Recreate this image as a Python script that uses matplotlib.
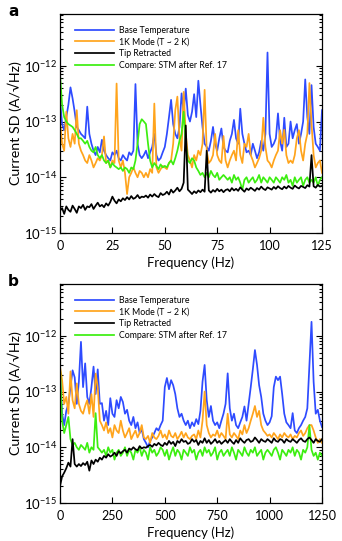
import numpy as np
import matplotlib
matplotlib.use("Agg")
import matplotlib.pyplot as plt
from matplotlib.ticker import FixedLocator, NullFormatter, NullLocator, LogFormatterSciNotation

FONT = ['Lato', 'DejaVu Sans']
plt.rcParams['font.family'] = FONT
plt.rcParams['mathtext.fontset'] = 'custom'
plt.rcParams['mathtext.rm'] = 'Lato'
plt.rcParams['mathtext.it'] = 'Lato:italic'
plt.rcParams['mathtext.bf'] = 'Lato:bold'

# ---------------- data (values in fA/sqrt(Hz), i.e. units of 1e-15) -------------
freq_a = np.arange(0, 126, 1)      # Hz
freq_b = np.arange(0, 1251, 10)    # Hz

base_a = [250, 90, 70, 120, 200, 410, 260, 150, 80, 70,
          60, 55, 50, 185, 60, 40, 30, 25, 35, 28,
          47, 30, 25, 22, 20, 28, 25, 30, 22, 20,
          25, 22, 20, 28, 25, 30, 470, 40, 25, 22,
          25, 30, 22, 28, 35, 60, 25, 20, 22, 28,
          35, 60, 120, 245, 90, 60, 50, 80, 320, 150,
          390, 130, 100, 150, 310, 120, 540, 200, 80, 40,
          35, 30, 45, 80, 40, 30, 50, 75, 35, 30,
          28, 45, 60, 107, 50, 40, 170, 60, 40, 28,
          30, 25, 40, 30, 22, 28, 45, 30, 60, 1730,
          60, 35, 40, 50, 140, 45, 30, 117, 35, 40,
          100, 50, 70, 90, 40, 60, 100, 570, 120, 60,
          450, 80, 40, 35, 30, 160]

onek_a = [100, 40, 30, 150, 50, 35, 60, 40, 160, 40,
          30, 25, 20, 18, 25, 20, 15, 18, 22, 20,
          25, 54, 18, 20, 15, 20, 18, 480, 20, 15,
          20, 12, 5, 10, 12, 15, 12, 10, 13, 12,
          10, 12, 10, 14, 12, 210, 15, 12, 14, 16,
          15, 14, 18, 20, 40, 160, 280, 50, 30, 340,
          60, 25, 20, 15, 25, 20, 30, 25, 40, 370,
          30, 18, 20, 25, 60, 25, 20, 18, 55, 20,
          15, 20, 25, 30, 20, 70, 25, 18, 40, 35,
          60, 25, 20, 15, 18, 22, 30, 117, 35, 20,
          18, 15, 20, 25, 30, 70, 40, 71, 25, 18,
          20, 18, 25, 50, 70, 30, 20, 40, 60, 490,
          90, 25, 15, 18, 20, 12]

tip_a = [2.5, 2.8, 2.2, 3.0, 2.6, 2.4, 3.1, 2.7, 2.3, 3.0,
         2.8, 3.2, 2.6, 3.0, 2.9, 3.3, 2.7, 3.1, 3.5, 3.0,
         3.2, 2.9, 3.4, 3.1, 3.6, 4.5, 3.8, 3.4, 4.0, 3.7,
         4.2, 3.9, 4.4, 4.0, 4.6, 4.1, 4.3, 4.8, 4.2, 4.5,
         4.4, 4.7, 4.3, 4.9, 4.5, 5.0, 4.6, 4.4, 5.2, 4.8,
         5.0, 5.5, 4.9, 6.0, 5.3, 5.8, 6.5, 5.6, 6.2, 8.0,
         85, 6.0, 5.5, 5.0, 5.6, 5.2, 5.8, 5.4, 6.0, 5.5,
         30, 5.8, 5.3, 5.9, 5.5, 6.2, 5.6, 6.0, 5.4, 5.9,
         6.1, 5.6, 6.4, 5.8, 6.2, 5.7, 6.6, 6.0, 5.5, 6.3,
         5.9, 6.5, 6.1, 5.7, 6.4, 6.0, 6.8, 6.2, 5.9, 6.6,
         6.3, 6.0, 6.7, 6.2, 6.9, 6.4, 6.1, 6.8, 6.3, 7.0,
         6.5, 6.2, 7.1, 6.6, 6.3, 7.0, 6.7, 6.4, 7.2, 6.8,
         25, 6.9, 6.5, 7.3, 6.8, 7.0]

stm_a = [700, 200, 120, 100, 90, 85, 80, 70, 60, 50,
         50, 45, 40, 45, 35, 30, 28, 35, 25, 22,
         25, 20, 18, 20, 15, 18, 16, 15, 14, 15,
         13, 15, 14, 12, 15, 14, 20, 40, 90, 110,
         100, 90, 40, 20, 15, 18, 16, 14, 17, 15,
         16, 15, 18, 20, 17, 22, 30, 45, 60, 150,
         40, 20, 18, 22, 20, 15, 13, 11, 12, 10,
         12, 10, 13, 11, 10, 12, 9, 10, 11, 10,
         9, 10, 8, 11, 9, 10, 8, 6, 9, 10,
         8, 9, 10, 8, 9, 11, 8, 10, 9, 8,
         10, 9, 8, 10, 9, 8, 10, 9, 11, 8,
         9, 7, 10, 8, 9, 10, 7, 9, 10, 8,
         9, 8, 10, 7, 9, 10]

base_b = [200, 40, 25, 45, 60, 120, 240, 180, 60, 150,
          780, 120, 320, 80, 60, 120, 280, 90, 250, 60,
          62, 30, 45, 25, 76, 40, 35, 70, 50, 80,
          65, 40, 47, 30, 25, 35, 22, 28, 18, 21,
          14, 12, 10, 13, 15, 18, 22, 20, 25, 30,
          120, 175, 110, 160, 130, 90, 50, 35, 40, 30,
          25, 30, 22, 28, 24, 32, 26, 45, 150, 300,
          70, 35, 55, 30, 25, 28, 22, 30, 40, 60,
          212, 50, 30, 40, 25, 22, 28, 35, 54, 30,
          60, 120, 250, 555, 300, 130, 80, 40, 30, 25,
          28, 36, 120, 185, 160, 185, 90, 40, 28, 25,
          22, 41, 20, 18, 22, 25, 30, 35, 50, 300,
          1780, 150, 40, 47, 30, 23]

onek_b = [280, 160, 60, 80, 40, 230, 70, 50, 140, 60,
          45, 40, 55, 70, 40, 90, 35, 210, 120, 30,
          25, 20, 28, 18, 22, 15, 25, 20, 18, 30,
          20, 15, 18, 22, 14, 17, 20, 15, 18, 25,
          15, 14, 16, 12, 18, 15, 14, 16, 20, 15,
          17, 14, 20, 16, 15, 18, 14, 16, 19, 15,
          18, 15, 14, 16, 17, 14, 20, 15, 30, 100,
          25, 18, 15, 17, 16, 20, 15, 18, 16, 14,
          40, 17, 15, 18, 16, 14, 20, 17, 25, 18,
          22, 30, 40, 55, 35, 45, 25, 20, 18, 16,
          17, 15, 18, 16, 14, 17, 15, 18, 16, 15,
          17, 14, 16, 15, 18, 20, 16, 18, 22, 25,
          25, 20, 15, 12, 14, 12]

tip_b = [2.0, 3.0, 3.5, 4.2, 5.3, 4.5, 14, 5.0, 4.5, 5.0,
         4.6, 5.2, 4.8, 5.5, 3.8, 5.8, 5.0, 6.0, 5.5, 6.5,
         6.0, 7.0, 6.5, 7.5, 6.8, 7.2, 8.0, 7.0, 8.5, 7.8,
         8.5, 9.0, 8.0, 9.5, 9.0, 10.0, 9.2, 8.8, 10.5, 9.5,
         10.0, 9.8, 10.5, 11.0, 10.2, 11.5, 10.8, 12.0, 11.0, 10.5,
         12.0, 11.0, 13.0, 11.5, 12.5, 10.5, 13.0, 12.0, 14.0, 12.5,
         13.0, 11.5, 12.0, 14.0, 12.5, 13.5, 11.0, 13.0, 12.0, 14.5,
         12.0, 13.5, 11.5, 12.5, 14.0, 12.0, 13.0, 11.5, 12.5, 13.5,
         12.0, 14.0, 12.5, 11.5, 13.5, 12.0, 14.5, 13.0, 12.0, 13.5,
         14.0, 12.5, 13.0, 15.0, 13.5, 12.0, 14.0, 13.0, 12.5, 14.0,
         13.0, 12.0, 14.5, 13.0, 12.5, 14.0, 13.5, 12.0, 14.0, 13.0,
         12.5, 14.0, 13.0, 12.0, 13.5, 14.5, 13.0, 12.5, 14.0, 15.0,
         13.5, 12.0, 14.0, 13.0, 12.5, 14.0]

stm_b = [280, 30, 18, 25, 35, 14, 11, 12, 10, 9,
         11, 10, 9, 12, 8, 10, 9, 41, 10, 9,
         8, 9, 7, 10, 8, 9, 6, 8, 9, 7,
         8, 10, 7, 9, 8, 6, 9, 8, 10, 7,
         9, 8, 6, 10, 8, 9, 7, 8, 10, 9,
         7, 9, 6, 8, 10, 7, 9, 8, 6, 9,
         8, 7, 10, 8, 9, 6, 8, 9, 7, 10,
         8, 9, 7, 8, 10, 6, 8, 9, 7, 8,
         9, 7, 10, 8, 6, 9, 8, 7, 10, 8,
         7, 9, 8, 10, 7, 8, 9, 6, 8, 9,
         8, 7, 9, 10, 8, 6, 9, 8, 7, 9,
         8, 10, 7, 9, 8, 6, 9, 8, 10, 25,
         9, 7, 8, 6, 8, 7]

labels = ["Base Temperature", "1K Mode (T ~ 2 K)", "Tip Retracted",
          "Compare: STM after Ref. 17"]
xticks_a = [0, 25, 50, 75, 100, 125]
xticks_b = [0, 250, 500, 750, 1000, 1250]
yticks = [1e-15, 1e-14, 1e-13, 1e-12]
unit = 1e-15

colors = ["#2e4bff", "#ffa41c", "#000000", "#3cee10"]
zorders = [2, 2.2, 2.6, 2.4]

W, H = 342, 541
fig = plt.figure(figsize=(W / 100, H / 100), dpi=100)
renderer = fig.canvas.get_renderer()


def fit(txt, target, vertical=False, iters=2):
    for _ in range(iters):
        bb = txt.get_window_extent(renderer)
        cur = bb.height if vertical else bb.width
        if cur > 0:
            txt.set_fontsize(txt.get_fontsize() * target / cur)


def make_panel(rect, freq, series, xticks, letter, letter_y):
    ax = fig.add_axes(rect)
    handles = []
    for s, c, z, lab in zip(series, colors, zorders, labels):
        h, = ax.plot(freq, np.array(s) * unit, color=c, lw=1.25, zorder=z,
                     label=lab)
        handles.append(h)
    ax.set_yscale('log')
    ymax = 8.5e-12
    ax.set_ylim(1e-15, ymax)
    ax.set_xlim(xticks[0], xticks[-1])
    ax.set_xticks(xticks)
    ax.set_xticklabels([str(t) for t in xticks])
    ax.xaxis.set_minor_locator(NullLocator())
    ax.yaxis.set_major_locator(FixedLocator(yticks))
    ax.yaxis.set_major_formatter(LogFormatterSciNotation())
    minors = [m * d for d in [1e-15, 1e-14, 1e-13, 1e-12] for m in range(2, 10)
              if m * d < ymax]
    ax.yaxis.set_minor_locator(FixedLocator(minors))
    ax.yaxis.set_minor_formatter(NullFormatter())
    ax.tick_params(which='both', direction='in', right=True, top=False, width=0.8)
    ax.tick_params(axis='x', labelsize=9, pad=5)
    ax.tick_params(axis='y', labelsize=9.5, pad=2)
    ax.tick_params(which='major', length=4)
    ax.tick_params(which='minor', length=2)
    for sp in ax.spines.values():
        sp.set_linewidth(0.9)
    xl = ax.set_xlabel("Frequency (Hz)", fontsize=10, labelpad=3)
    yl = ax.set_ylabel("Current SD (A/\u221aHz)", fontsize=10, labelpad=1)
    leg = ax.legend(handles=handles, loc='upper left', bbox_to_anchor=(0.057, 0.945),
                    frameon=False, fontsize=7, handlelength=4.0, handletextpad=0.5,
                    labelspacing=0.28, borderpad=0, borderaxespad=0)
    fig.text(8 / W, letter_y, letter, fontsize=11, fontweight='bold',
             ha='left', va='center', family='DejaVu Sans')
    fig.canvas.draw()
    fit(xl, 87)
    fit(yl, 125, vertical=True)
    longest = leg.get_texts()[3]
    bb = longest.get_window_extent(renderer)
    fs = longest.get_fontsize() * 108 / bb.width
    for t in leg.get_texts():
        t.set_fontsize(fs)
    return ax

left = 60 / W
width = (322 - 60) / W
make_panel([left, 1 - 233 / H, width, 219 / H], freq_a,
           [base_a, onek_a, tip_a, stm_a], xticks_a, 'a', 1 - 11 / H)
make_panel([left, 1 - 503 / H, width, 219 / H], freq_b,
           [base_b, onek_b, tip_b, stm_b], xticks_b, 'b', 1 - 281 / H)

fig.savefig("out.png", dpi=100)
